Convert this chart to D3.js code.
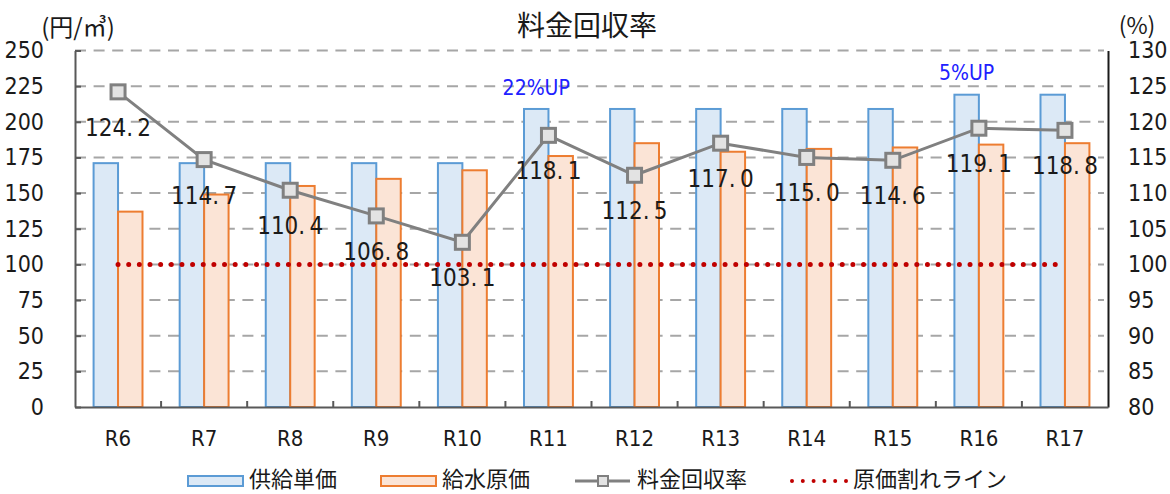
<!DOCTYPE html>
<html>
<head>
<meta charset="utf-8">
<script src="https://cdn.jsdelivr.net/npm/d3@7"></script>
<style>
  body { margin: 0; background: #fff; overflow: hidden; }
  svg { display: block; }
  .num { font-family: "Liberation Sans Narrow", "DejaVu Sans Condensed", sans-serif; }
  .jp { font-family: "Noto Sans CJK JP", sans-serif; }
</style>
</head>
<body>
<svg id="chart"></svg>
<script>
// data
var categories = ["R6", "R7", "R8", "R9", "R10", "R11", "R12", "R13", "R14", "R15", "R16", "R17"];
var supplyPrice = [171, 171, 171, 171, 171, 209, 209, 209, 209, 209, 219, 219]; // 供給単価
var waterCost = [137, 149, 155, 160, 166, 176, 185, 179, 181, 182, 184, 185];   // 給水原価
var recoveryRate = [124.2, 114.7, 110.4, 106.8, 103.1, 118.1, 112.5, 117.0, 115.0, 114.6, 119.1, 118.8]; // 料金回収率
var breakEven = [100, 100, 100, 100, 100, 100, 100, 100, 100, 100, 100, 100];
var leftTicks = [0, 25, 50, 75, 100, 125, 150, 175, 200, 225, 250];
var rightTicks = [80, 85, 90, 95, 100, 105, 110, 115, 120, 125, 130];
var notes = [{ cat: "R11", text: "22%UP", top: 95 }, { cat: "R16", text: "5%UP", top: 80 }];

var svg;
var width = 1170, height = 494;
var plot = { left: 75, right: 1108, top: 50.5, bottom: 407 };

document.addEventListener("DOMContentLoaded", function () {
  svg = d3.select("#chart").attr("width", width).attr("height", height);
  drawChart();
});

function drawChart() {
  let x = d3.scaleBand().domain(categories).range([plot.left, plot.right]).padding(0);
  let xIn = d3.scaleBand().domain(["supply", "cost"]).range([0, x.bandwidth()])
    .paddingInner(0).paddingOuter(0.76);
  let yL = d3.scaleLinear().domain([0, 250]).range([plot.bottom, plot.top]);
  let yR = d3.scaleLinear().domain([80, 130]).range([plot.bottom, plot.top]);
  let cx = (c) => x(c) + x.bandwidth() / 2;

  // gridlines
  svg.append("g")
    .selectAll("line")
    .data(leftTicks.slice(1))
    .enter()
    .append("line")
    .attr("x1", plot.left)
    .attr("x2", plot.right - 4)
    .attr("y1", (d) => yL(d))
    .attr("y2", (d) => yL(d))
    .style("stroke", "#a6a6a6")
    .style("stroke-width", 2)
    .style("stroke-dasharray", "11,7.6");

  // bars
  let groups = svg.append("g")
    .selectAll("g")
    .data(categories)
    .enter()
    .append("g")
    .attr("transform", (d) => `translate(${x(d)},0)`);

  groups.append("rect")
    .attr("x", xIn("supply"))
    .attr("width", xIn.bandwidth())
    .attr("y", (d, i) => yL(supplyPrice[i]))
    .attr("height", (d, i) => yL(0) - yL(supplyPrice[i]))
    .style("fill", "#dce9f6")
    .style("stroke", "#5b9bd5")
    .style("stroke-width", 2);

  groups.append("rect")
    .attr("x", xIn("cost"))
    .attr("width", xIn.bandwidth())
    .attr("y", (d, i) => yL(waterCost[i]))
    .attr("height", (d, i) => yL(0) - yL(waterCost[i]))
    .style("fill", "#fbe4d6")
    .style("stroke", "#ed7d31")
    .style("stroke-width", 2);

  // axes
  svg.append("g")
    .attr("transform", `translate(${plot.left},0)`)
    .call(d3.axisLeft(yL).tickValues(leftTicks).tickSize(-6).tickPadding(31).tickSizeOuter(0))
    .call((g) => {
      g.select(".domain").style("stroke", "#595959").style("stroke-width", 2);
      g.selectAll(".tick line").style("stroke", "#595959").style("stroke-width", 2);
      g.selectAll("text").attr("class", "num").style("font-size", "23px").style("fill", "#1a1a1a");
    });

  svg.append("g")
    .attr("transform", `translate(${plot.right},0)`)
    .call(d3.axisRight(yR).tickValues(rightTicks).tickSize(0).tickPadding(20))
    .call((g) => {
      g.select(".domain").style("stroke", "#1a1a1a").style("stroke-width", 2);
      g.selectAll("text").attr("class", "num").style("font-size", "23px").style("fill", "#1a1a1a");
    });

  svg.append("g")
    .attr("transform", `translate(0,${plot.bottom})`)
    .call(d3.axisBottom(x).tickSize(0).tickPadding(23))
    .call((g) => {
      g.select(".domain").style("stroke", "#595959").style("stroke-width", 2);
      g.selectAll("text").attr("class", "num").style("font-size", "22px").style("fill", "#1a1a1a");
    });

  // small ticks between categories
  svg.append("g")
    .selectAll("line")
    .data(categories.slice(1))
    .enter()
    .append("line")
    .attr("x1", (d) => x(d))
    .attr("x2", (d) => x(d))
    .attr("y1", plot.bottom)
    .attr("y2", plot.bottom - 6)
    .style("stroke", "#595959")
    .style("stroke-width", 2);

  // break-even line (dotted red)
  let refLine = d3.line().x((d, i) => cx(categories[i])).y((d) => yR(d));
  svg.append("path")
    .attr("d", refLine(breakEven))
    .style("fill", "none")
    .style("stroke", "#c00000")
    .style("stroke-width", 5)
    .style("stroke-linecap", "round")
    .style("stroke-dasharray", "0,10.65");

  // recovery rate line
  let rateLine = d3.line().x((d, i) => cx(categories[i])).y((d) => yR(d));
  svg.append("path")
    .attr("d", rateLine(recoveryRate))
    .style("fill", "none")
    .style("stroke", "#808080")
    .style("stroke-width", 3);

  svg.append("g")
    .selectAll("rect")
    .data(recoveryRate)
    .enter()
    .append("rect")
    .attr("x", (d, i) => cx(categories[i]) - 7)
    .attr("y", (d) => yR(d) - 7)
    .attr("width", 14)
    .attr("height", 14)
    .style("fill", "#e3e3e3")
    .style("stroke", "#808080")
    .style("stroke-width", 3);

  // data labels (period is wide in the original font)
  svg.append("g")
    .selectAll("text")
    .data(recoveryRate)
    .enter()
    .append("text")
    .attr("class", "num")
    .attr("x", (d, i) => cx(categories[i]))
    .attr("y", (d) => yR(d) + 44)
    .attr("text-anchor", "middle")
    .style("font-size", "24px")
    .style("fill", "#1a1a1a")
    .text((d) => d3.format(".1f")(d).replace(".", ".\u2009"));

  // rate increase notes
  svg.append("g")
    .selectAll("text")
    .data(notes)
    .enter()
    .append("text")
    .attr("class", "num")
    .attr("x", (d) => x(d.cat) + xIn("supply") + xIn.bandwidth() / 2)
    .attr("y", (d) => d.top)
    .attr("text-anchor", "middle")
    .style("font-size", "21px")
    .style("fill", "#2020ff")
    .text((d) => d.text);

  // title and unit labels
  svg.append("text")
    .attr("class", "jp")
    .attr("x", 587)
    .attr("y", 24)
    .attr("text-anchor", "middle")
    .attr("dominant-baseline", "central")
    .style("font-size", "28px")
    .style("fill", "#1a1a1a")
    .text("料金回収率");

  svg.append("text")
    .attr("class", "jp")
    .attr("x", 78)
    .attr("y", 25)
    .attr("text-anchor", "middle")
    .attr("dominant-baseline", "central")
    .style("font-size", "24px")
    .style("fill", "#1a1a1a")
    .text("(円/㎥)");

  svg.append("text")
    .attr("class", "jp")
    .attr("x", 1137)
    .attr("y", 24)
    .attr("text-anchor", "middle")
    .attr("dominant-baseline", "central")
    .style("font-size", "23px")
    .style("fill", "#1a1a1a")
    .text("(%)");

  // legend
  let legend = svg.append("g").attr("transform", "translate(0,481)");
  legend.append("rect")
    .attr("x", 188).attr("y", -5).attr("width", 55).attr("height", 10)
    .style("fill", "#dce9f6").style("stroke", "#5b9bd5").style("stroke-width", 2);
  legend.append("rect")
    .attr("x", 381).attr("y", -5).attr("width", 55).attr("height", 10)
    .style("fill", "#fbe4d6").style("stroke", "#ed7d31").style("stroke-width", 2);
  legend.append("line")
    .attr("x1", 575).attr("x2", 630).attr("y1", 0).attr("y2", 0)
    .style("stroke", "#808080").style("stroke-width", 3);
  legend.append("rect")
    .attr("x", 598).attr("y", -5).attr("width", 10).attr("height", 10)
    .style("fill", "#e3e3e3").style("stroke", "#808080").style("stroke-width", 2);
  legend.append("line")
    .attr("x1", 792).attr("x2", 850).attr("y1", 0).attr("y2", 0)
    .style("stroke", "#c00000").style("stroke-width", 4)
    .style("stroke-linecap", "round").style("stroke-dasharray", "0,10.8");

  let legendLabels = [
    { x: 249, text: "供給単価" },
    { x: 442, text: "給水原価" },
    { x: 637, text: "料金回収率" },
    { x: 853, text: "原価割れライン" },
  ];
  legend.selectAll("text.lg")
    .data(legendLabels)
    .enter()
    .append("text")
    .attr("class", "jp lg")
    .attr("x", (d) => d.x)
    .attr("y", 6)
    .style("font-size", "22px")
    .style("fill", "#1a1a1a")
    .text((d) => d.text);
}
</script>
</body>
</html>
